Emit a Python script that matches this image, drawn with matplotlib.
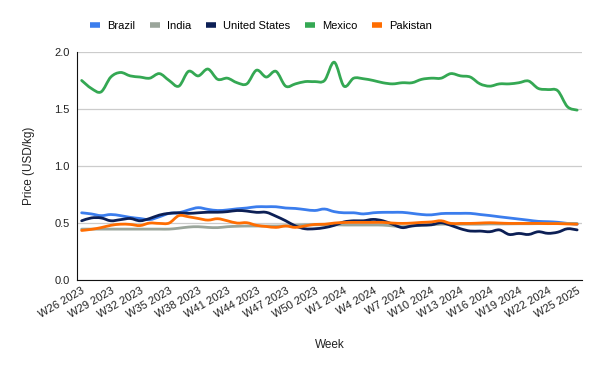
import numpy as np
import matplotlib
matplotlib.use("Agg")
import matplotlib.pyplot as plt
from matplotlib.path import Path
from matplotlib.patches import PathPatch
from matplotlib.lines import Line2D

plt.rcParams['font.family'] = ['Liberation Sans', 'DejaVu Sans']

weeks = ([f"W{w} 2023" for w in range(26, 53)]
         + [f"W{w} 2024" for w in range(1, 25)]
         + ["W25 2025"])

brazil = [0.59, 0.58, 0.565, 0.575, 0.565, 0.55, 0.54, 0.53, 0.555, 0.585,
          0.59, 0.615, 0.635, 0.62, 0.61, 0.615, 0.625, 0.632, 0.643, 0.643,
          0.643, 0.632, 0.628, 0.618, 0.61, 0.623, 0.60, 0.59, 0.59, 0.58,
          0.59, 0.594, 0.594, 0.594, 0.585, 0.575, 0.572, 0.583, 0.585, 0.585,
          0.585, 0.575, 0.566, 0.555, 0.545, 0.535, 0.525, 0.515, 0.512, 0.507,
          0.497, 0.49]
india = [0.447, 0.447, 0.447, 0.447, 0.447, 0.447, 0.447, 0.447, 0.447, 0.447,
         0.455, 0.465, 0.468, 0.462, 0.46, 0.468, 0.472, 0.474, 0.474, 0.474,
         0.474, 0.476, 0.48, 0.485, 0.485, 0.485, 0.485, 0.483, 0.483, 0.483,
         0.483, 0.482, 0.475, 0.468, 0.475, 0.48, 0.485, 0.49, 0.49, 0.49,
         0.49, 0.49, 0.492, 0.492, 0.493, 0.494, 0.494, 0.495, 0.495, 0.496,
         0.497, 0.497]
united_states = [0.52, 0.545, 0.545, 0.52, 0.53, 0.54, 0.52, 0.54, 0.57, 0.585,
                 0.59, 0.585, 0.59, 0.595, 0.595, 0.60, 0.61, 0.605, 0.594, 0.594,
                 0.56, 0.52, 0.475, 0.45, 0.45, 0.46, 0.48, 0.51, 0.52, 0.52,
                 0.532, 0.52, 0.49, 0.46, 0.475, 0.482, 0.485, 0.503, 0.48, 0.45,
                 0.43, 0.43, 0.424, 0.44, 0.40, 0.409, 0.40, 0.424, 0.41, 0.42,
                 0.45, 0.44]
mexico = [1.75, 1.68, 1.65, 1.78, 1.82, 1.79, 1.78, 1.77, 1.81, 1.75,
          1.70, 1.83, 1.79, 1.85, 1.76, 1.77, 1.73, 1.72, 1.84, 1.78,
          1.83, 1.70, 1.72, 1.74, 1.74, 1.75, 1.91, 1.70, 1.77, 1.765,
          1.75, 1.73, 1.72, 1.73, 1.73, 1.76, 1.77, 1.77, 1.81, 1.79,
          1.78, 1.72, 1.70, 1.72, 1.72, 1.73, 1.745, 1.68, 1.67, 1.66,
          1.52, 1.49]
pakistan = [0.435, 0.445, 0.46, 0.48, 0.49, 0.488, 0.478, 0.50, 0.497, 0.50,
            0.565, 0.555, 0.54, 0.526, 0.538, 0.52, 0.50, 0.503, 0.48, 0.47,
            0.462, 0.474, 0.462, 0.475, 0.488, 0.49, 0.50, 0.505, 0.506, 0.506,
            0.506, 0.506, 0.50, 0.497, 0.50, 0.506, 0.51, 0.52, 0.497, 0.497,
            0.497, 0.50, 0.503, 0.50, 0.497, 0.497, 0.497, 0.497, 0.495, 0.495,
            0.492, 0.49]

series = [("Brazil", brazil, "#3b7ded"),
          ("India", india, "#9aa59a"),
          ("United States", united_states, "#0c1f55"),
          ("Mexico", mexico, "#34a853"),
          ("Pakistan", pakistan, "#ff6d01")]


def smooth_path(x, y, k=1/6):
    # bezier through each point, tangents like a catmull-rom spline
    x = np.asarray(x, float)
    y = np.asarray(y, float)
    verts = [(x[0], y[0])]
    codes = [Path.MOVETO]
    n = len(x)
    for i in range(n - 1):
        p0 = i - 1 if i > 0 else i
        p3 = i + 2 if i + 2 < n else i + 1
        c1 = (x[i] + (x[i + 1] - x[p0]) * k, y[i] + (y[i + 1] - y[p0]) * k)
        c2 = (x[i + 1] - (x[p3] - x[i]) * k, y[i + 1] - (y[p3] - y[i]) * k)
        verts += [c1, c2, (x[i + 1], y[i + 1])]
        codes += [Path.CURVE4] * 3
    return Path(verts, codes)


fig = plt.figure(figsize=(6, 3.71), dpi=100)
ax = fig.add_axes([0.128, 0.245, 0.842, 0.615])

xs = np.arange(len(weeks))
handles = []
for name, vals, col in series:
    patch = PathPatch(smooth_path(xs, vals), fill=False, edgecolor=col,
                      lw=2, capstyle='round', joinstyle='round')
    ax.add_patch(patch)
    handles.append(Line2D([], [], color=col, lw=4, solid_capstyle='butt'))

ax.set_xlim(-0.5, len(weeks) - 0.5)
ax.set_ylim(0, 2.0)
ax.set_yticks([0, 0.5, 1.0, 1.5, 2.0])
ax.set_yticklabels(["0.0", "0.5", "1.0", "1.5", "2.0"])
ax.set_xticks(xs[::3])
ax.set_xticklabels(weeks[::3], rotation=30, ha='right', rotation_mode='anchor')
ax.tick_params(axis='both', length=0, labelsize=8, colors='#222222')
ax.tick_params(axis='x', pad=4)
ax.tick_params(axis='y', pad=5)
ax.grid(axis='y', color='#cccccc', lw=0.9)
ax.set_axisbelow(True)
for s in ['top', 'right']:
    ax.spines[s].set_visible(False)
ax.spines['left'].set_color('#111111')
ax.spines['bottom'].set_color('#111111')

ax.set_xlabel("Week", fontsize=8.5, color='#222222', labelpad=14)
ax.set_ylabel("Price (USD/kg)", fontsize=8.5, color='#222222', labelpad=14)

fig.legend(handles, [s[0] for s in series], loc='center', ncol=5,
           bbox_to_anchor=(0.435, 0.93), frameon=False, fontsize=8,
           handlelength=0.9, handletextpad=0.65, columnspacing=1.3)

fig.savefig("out.png", dpi=100)
